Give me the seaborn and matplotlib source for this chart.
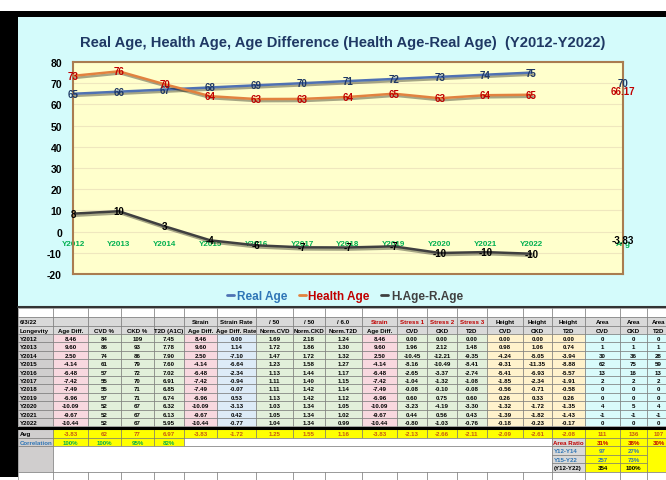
import math
import numpy as np
import pandas as pd
import matplotlib
matplotlib.use("Agg")
import matplotlib.pyplot as plt
import matplotlib.patheffects as pe
from matplotlib.patches import Rectangle
from matplotlib.lines import Line2D
import seaborn as sns

# ---- chart data ----
years = ["Y2012", "Y2013", "Y2014", "Y2015", "Y2016", "Y2017",
         "Y2018", "Y2019", "Y2020", "Y2021", "Y2022"]
real_age = [65, 66, 67, 68, 69, 70, 71, 72, 73, 74, 75]
health_age = [73.46, 75.60, 69.50, 63.86, 62.52, 62.58, 63.51, 65.04, 62.91, 64.33, 64.56]
age_diff = [8.46, 9.60, 2.50, -4.14, -6.48, -7.42, -7.49, -6.96, -10.09, -9.67, -10.44]
avg_real = 70
avg_health = 66.17
avg_diff = -3.83

# ---- table data ----
hdr1 = ["6/3/22", "", "", "", "", "Strain", "Strain Rate", "/ 50", "/ 50", "/ 6.0",
        "Strain", "Stress 1", "Stress 2", "Stress 3", "Height", "Height", "Height",
        "Area", "Area", "Area"]
hdr2 = ["Longevity", "Age Diff.", "CVD %", "CKD %", "T2D (A1C)", "Age Diff.",
        "Age Diff. Rate", "Norm.CVD", "Norm.CKD", "Norm.T2D", "Age Diff.", "CVD", "CKD",
        "T2D", "CVD", "CKD", "T2D", "CVD", "CKD", "T2D"]
cvd_pct = [84, 86, 74, 61, 57, 55, 55, 57, 52, 52, 52]
ckd_pct = [109, 93, 86, 79, 72, 70, 71, 71, 67, 67, 67]
t2d_a1c = [7.45, 7.78, 7.90, 7.60, 7.02, 6.91, 6.85, 6.74, 6.32, 6.13, 5.95]
strain_rate = [0.00, 1.14, -7.10, -6.64, -2.34, -0.94, -0.07, 0.53, -3.13, 0.42, -0.77]
norm_cvd = [1.69, 1.72, 1.47, 1.23, 1.13, 1.11, 1.11, 1.13, 1.03, 1.05, 1.04]
norm_ckd = [2.18, 1.86, 1.72, 1.58, 1.44, 1.40, 1.42, 1.42, 1.34, 1.34, 1.34]
norm_t2d = [1.24, 1.30, 1.32, 1.27, 1.17, 1.15, 1.14, 1.12, 1.05, 1.02, 0.99]
stress_cvd = [0.00, 1.96, -10.45, -8.16, -2.65, -1.04, -0.08, 0.60, -3.23, 0.44, -0.80]
stress_ckd = [0.00, 2.12, -12.21, -10.49, -3.37, -1.32, -0.10, 0.75, -4.19, 0.56, -1.03]
stress_t2d = [0.00, 1.48, -9.35, -8.41, -2.74, -1.08, -0.08, 0.60, -3.30, 0.43, -0.76]
height_cvd = [0.00, 0.98, -4.24, -9.31, -5.41, -1.85, -0.56, 0.26, -1.32, -1.39, -0.18]
height_ckd = [0.00, 1.06, -5.05, -11.35, -6.93, -2.34, -0.71, 0.33, -1.72, -1.82, -0.23]
height_t2d = [0.00, 0.74, -3.94, -8.88, -5.57, -1.91, -0.58, 0.26, -1.35, -1.43, -0.17]
area_cvd = [0, 1, 30, 62, 13, 2, 0, 0, 4, -1, 0]
area_ckd = [0, 1, 36, 75, 16, 2, 0, 0, 5, -1, 0]
area_t2d = [0, 1, 28, 59, 13, 2, 0, 0, 4, -1, 0]
avg_row = ["-3.83", "62", "77", "6.97", "-3.83", "-1.72", "1.25", "1.55", "1.16", "-3.83",
           "-2.13", "-2.66", "-2.11", "-2.09", "-2.61", "-2.08", "111", "136", "107"]
correlation = ["100%", "100%", "95%", "82%"]
area_ratio = ["31%", "38%", "30%"]
ratio_rows = [("Y12-Y14", "97", "27%"), ("Y15-Y22", "257", "73%"), ("(Y12-Y22)", "354", "100%")]


def xl_round(v):
    return str(int(math.copysign(math.floor(abs(v) + 0.5), v)))


FONT = ["Liberation Sans", "DejaVu Sans"]
sns.set_theme(style="white")
plt.rcParams["font.family"] = FONT

W, H = 666, 481
fig = plt.figure(figsize=(W / 100, H / 100), dpi=100)

# background / frame in pixel coords
bg = fig.add_axes([0, 0, 1, 1], zorder=0)
bg.set_xlim(0, W)
bg.set_ylim(H, 0)
bg.axis("off")
bg.add_patch(Rectangle((0, 12), W, 6, fc="black", ec="none"))
bg.add_patch(Rectangle((0, 12), 18, 466, fc="black", ec="none"))
bg.add_patch(Rectangle((18, 18), W - 18, 289, fc="#D4FBFB", ec="none"))
bg.plot([18, W], [307.5, 307.5], color="#333333", lw=1.5)

fig.text(343 / W, 1 - 43 / H,
         "Real Age, Health Age, Age Difference (Health Age-Real Age)  (Y2012-Y2022)",
         ha="center", va="center", fontsize=10.6, fontweight="bold", color="#1F3864")

# ---- chart ----
ax = fig.add_axes([73 / W, 1 - 275 / H, 550 / W, 212 / H], zorder=2)
ax.set_facecolor("#FFFFCC")

pos = np.arange(len(years))
df = pd.DataFrame({"pos": np.tile(pos, 3),
                   "value": real_age + health_age + age_diff,
                   "series": ["Real Age"] * 11 + ["Health Age"] * 11 + ["H.Age-R.Age"] * 11})
line_colors = {"Real Age": "#4F71B3", "Health Age": "#E2823F", "H.Age-R.Age": "#3F3F3F"}
sns.lineplot(data=df, x="pos", y="value", hue="series", palette=line_colors,
             linewidth=1.8, sort=False, legend=False, ax=ax)
for ln in ax.lines:
    ln.set_path_effects([pe.SimpleLineShadow(offset=(1.2, -1.5), shadow_color="black", alpha=0.35),
                         pe.Normal()])

avg_x = len(years) + 1
label_sets = [(real_age, avg_real, "#1F3864"), (health_age, avg_health, "#C00000"),
              (age_diff, avg_diff, "black")]
for vals, avg_v, col in label_sets:
    for x, v in zip(pos, vals):
        ax.text(x, v, xl_round(v), ha="center", va="center", fontsize=7,
                fontweight="bold", color=col, zorder=5)
    ax.text(avg_x, avg_v, f"{avg_v:g}", ha="center", va="center", fontsize=7,
            fontweight="bold", color=col, zorder=5)

ax.set_xlim(0, avg_x)
ax.set_ylim(-20, 80)
ax.set_yticks(range(-20, 81, 10))
ax.set_yticklabels([str(t) for t in range(-20, 81, 10)], fontweight="bold", fontsize=7.5)
ax.tick_params(axis="y", length=0, pad=8, colors="black")
ax.set_xticks([])
ax.set_xlabel("")
ax.set_ylabel("")
ax.yaxis.grid(True, color="#EFE7BE", lw=0.8)
ax.set_axisbelow(True)
for sp in ax.spines.values():
    sp.set_color("#A97C50")
    sp.set_linewidth(1.5)

zero_frac = (0 - ax.get_ylim()[0]) / (ax.get_ylim()[1] - ax.get_ylim()[0])
sec = ax.secondary_xaxis(zero_frac)
sec.set_xticks(list(pos) + [avg_x], years + ["Avg"])
sec.tick_params(length=0, pad=6, labelsize=5.8, labelcolor="#00B050")
for t in sec.get_xticklabels():
    t.set_fontweight("bold")
sec.spines["bottom"].set_visible(False)

handles = [Line2D([], [], color=c, lw=2) for c in line_colors.values()]
ax.legend(handles, list(line_colors.keys()), loc="center",
          bbox_to_anchor=(345 / W, 1 - 297 / H), bbox_transform=fig.transFigure,
          ncol=3, frameon=False, handlelength=0.6, handletextpad=0.2, columnspacing=1.0,
          labelcolor=["#2E75B6", "#C00000", "#404040"],
          prop={"weight": "bold", "size": 8.5})

# ---- table ----
col_edges = [18, 53, 88, 121, 154, 184, 217, 256, 293, 325, 362, 397, 427, 457,
             487, 523, 552, 585, 620, 647, 670]
GRAY, HEAD = "#D0CECE", "#D9D9D9"
PINK, GREEN, BLUE, YEL, CYAN = "#F8D8DF", "#E2EFDA", "#DDEBF7", "#FFF2CC", "#D9FBFB"
col_fill = [GRAY, PINK, GREEN, GREEN, GREEN, PINK, BLUE, GREEN, GREEN, GREEN, PINK,
            GREEN, GREEN, GREEN, YEL, YEL, YEL, CYAN, CYAN, CYAN]
TFS = 4.4


def cell(c0, c1, y0, y1, text="", fc="white", color="black", ha="center"):
    x0, x1 = col_edges[c0], col_edges[c1]
    bg.add_patch(Rectangle((x0, y0), x1 - x0, y1 - y0, fc=fc, ec="#6E6E6E", lw=0.4))
    if text:
        tx = (x0 + x1) / 2 if ha == "center" else x0 + 1.5
        bg.text(tx, (y0 + y1) / 2 + 0.3, text, ha=ha, va="center", fontsize=TFS,
                fontweight="bold", color=color)


ncol = len(hdr1)
for c in range(ncol):
    cell(c, c + 1, 308.5, 318)
red_heads = {10, 11, 12, 13}
for c in range(ncol):
    cell(c, c + 1, 318, 326.5, hdr1[c], HEAD, "#C00000" if c in red_heads else "black",
         "left" if c == 0 else "center")
    cell(c, c + 1, 326.5, 335, hdr2[c], HEAD, "black", "left" if c == 0 else "center")

columns = [age_diff, cvd_pct, ckd_pct, t2d_a1c, age_diff, strain_rate, norm_cvd, norm_ckd,
           norm_t2d, age_diff, stress_cvd, stress_ckd, stress_t2d, height_cvd, height_ckd,
           height_t2d, area_cvd, area_ckd, area_t2d]
int_cols = {1, 2, 16, 17, 18}
RH = 8.4
for r, yr in enumerate(years):
    y0 = 335 + r * RH
    cell(0, 1, y0, y0 + RH, yr, GRAY, "black", "left")
    for c, colvals in enumerate(columns):
        v = colvals[r]
        txt = f"{v:d}" if c in int_cols else f"{v:.2f}"
        cell(c + 1, c + 2, y0, y0 + RH, txt, col_fill[c + 1])

bg.plot([18, W], [428.5, 428.5], color="black", lw=2.2)
cell(0, 1, 430, 438.5, "Avg", GRAY, "black", "left")
for c, txt in enumerate(avg_row):
    cell(c + 1, c + 2, 430, 438.5, txt, "#FFFF00", "#C65911")
cell(0, 1, 438.5, 447, "Correlation", GRAY, "#2E75B6", "left")
for c, txt in enumerate(correlation):
    cell(c + 1, c + 2, 438.5, 447, txt, "#FFFF00", "#00B050")
cell(5, 16, 438.5, 447)
cell(16, 17, 438.5, 447, "Area Ratio", HEAD, "#C00000")
for c, txt in enumerate(area_ratio):
    cell(17 + c, 18 + c, 438.5, 447, txt, "#FFFF00", "#C00000")
cell(0, 1, 447, 472.5, "", GRAY)
cell(1, 16, 447, 472.5)
for r, (lab, n, pct) in enumerate(ratio_rows):
    y0 = 447 + r * 8.5
    tc = "black" if r == 2 else "#2E75B6"
    cell(16, 17, y0, y0 + 8.5, lab, HEAD, tc, "left")
    cell(17, 18, y0, y0 + 8.5, n, "#FFFF00", tc)
    cell(18, 19, y0, y0 + 8.5, pct, "#FFFF00", tc)
cell(19, 20, 447, 472.5, "", "#FFFF00")
for c in range(ncol):
    cell(c, c + 1, 472.5, 482)

fig.savefig("out.png", dpi=100)
